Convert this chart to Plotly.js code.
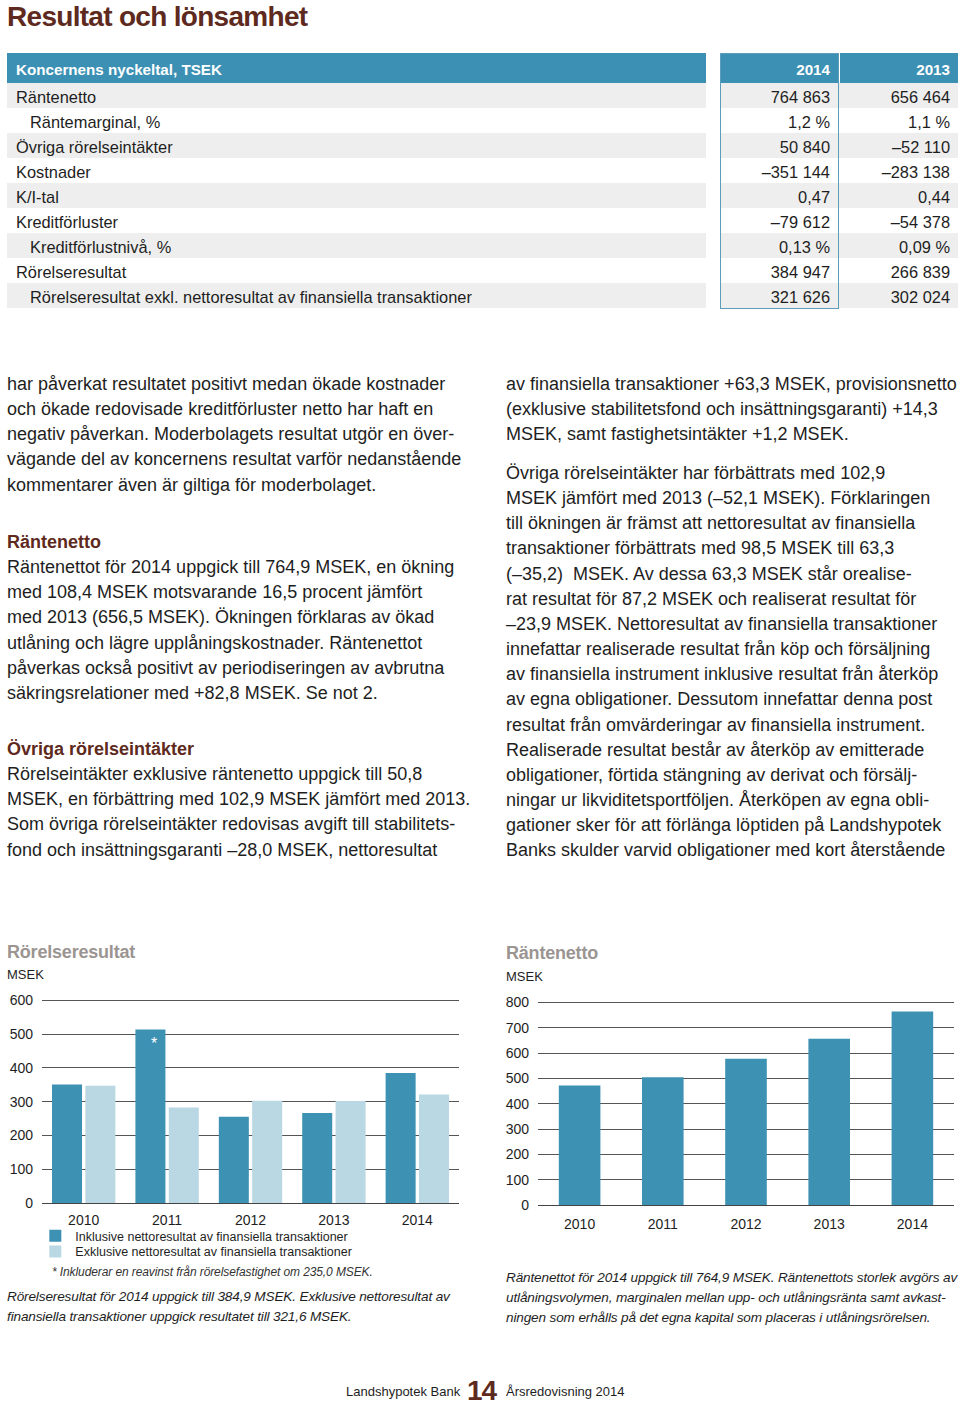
<!DOCTYPE html>
<html lang="sv">
<head>
<meta charset="utf-8">
<script src="https://cdn.plot.ly/plotly-3.0.1.min.js"></script>
<style>
  html, body { margin:0; padding:0; background:#fff; }
  body { width:960px; height:1411px; position:relative; overflow:hidden;
         font-family:"Liberation Sans", Arial, sans-serif; color:#1e1e1e; }
  .abs { position:absolute; white-space:nowrap; }
  .title { left:7px; top:1px; font-size:28px; font-weight:bold; color:#5e2a20; letter-spacing:-0.7px; }
  .para { font-size:18px; line-height:25.15px; }
  .head { color:#5e2a20; font-weight:bold; }
  .ctitle { font-size:18px; font-weight:bold; color:#9b9592; letter-spacing:-0.2px; }
  .unit { font-size:13px; color:#1e1e1e; }
  .cap { font-size:13.6px; font-style:italic; line-height:20px; color:#1e1e1e; letter-spacing:-0.15px; }
  .note { font-size:12px; font-style:italic; color:#333; letter-spacing:-0.1px; }
  table.kt { position:absolute; left:7px; top:53px; border-collapse:collapse; table-layout:fixed; font-size:16.4px; }
  table.kt td, table.kt th { padding:0; white-space:nowrap; overflow:hidden; }
  table.kt th { height:28px; padding-top:2px; background:#3b90b3; color:#fff; font-weight:bold; font-size:15.2px; }
  table.kt td { height:22px; padding-top:3px; }
  .lab { text-align:left; padding-left:9px !important; }
  .ind { padding-left:23px !important; }
  .num { text-align:right; padding-right:8px !important; }
  .sp { background:#fff !important; }
  #outline { position:absolute; left:720px; top:53px; width:119px; height:256px; box-sizing:border-box;
             border:1px solid #5c9dba; pointer-events:none; }
</style>
</head>
<body>
<div class="abs title">Resultat och lönsamhet</div>

<table class="kt" id="kt">
  <colgroup><col style="width:699px"><col style="width:14px"><col style="width:118px"><col style="width:2px"><col style="width:118px"></colgroup>
  <thead><tr id="khead"></tr></thead>
  <tbody id="kbody"></tbody>
</table>
<div id="outline"></div>

<div class="abs para" style="left:7px; top:372px;">har påverkat resultatet positivt medan ökade kostnader<br>och ökade redovisade kreditförluster netto har haft en<br>negativ påverkan. Moderbolagets resultat utgör en över-<br>vägande del av koncernens resultat varför nedanstående<br>kommentarer även är giltiga för moderbolaget.</div>

<div class="abs para" style="left:7px; top:530px;"><span class="head">Räntenetto</span><br>Räntenettot för 2014 uppgick till 764,9 MSEK, en ökning<br>med 108,4 MSEK motsvarande 16,5 procent jämfört<br>med 2013 (656,5 MSEK). Ökningen förklaras av ökad<br>utlåning och lägre upplåningskostnader. Räntenettot<br>påverkas också positivt av periodiseringen av avbrutna<br>säkringsrelationer med +82,8 MSEK. Se not 2.</div>

<div class="abs para" style="left:7px; top:737px;"><span class="head">Övriga rörelseintäkter</span><br>Rörelseintäkter exklusive räntenetto uppgick till 50,8<br>MSEK, en förbättring med 102,9 MSEK jämfört med 2013.<br>Som övriga rörelseintäkter redovisas avgift till stabilitets-<br>fond och insättningsgaranti –28,0 MSEK, nettoresultat</div>

<div class="abs para" style="left:506px; top:372px;">av finansiella transaktioner +63,3 MSEK, provisionsnetto<br>(exklusive stabilitetsfond och insättningsgaranti) +14,3<br>MSEK, samt fastighetsintäkter +1,2 MSEK.</div>

<div class="abs para" style="left:506px; top:461px;">Övriga rörelseintäkter har förbättrats med 102,9<br>MSEK jämfört med 2013 (–52,1 MSEK). Förklaringen<br>till ökningen är främst att nettoresultat av finansiella<br>transaktioner förbättrats med 98,5 MSEK till 63,3<br>(–35,2)&nbsp; MSEK. Av dessa 63,3 MSEK står orealise-<br>rat resultat för 87,2 MSEK och realiserat resultat för<br>–23,9 MSEK. Nettoresultat av finansiella transaktioner<br>innefattar realiserade resultat från köp och försäljning<br>av finansiella instrument inklusive resultat från återköp<br>av egna obligationer. Dessutom innefattar denna post<br>resultat från omvärderingar av finansiella instrument.<br>Realiserade resultat består av återköp av emitterade<br>obligationer, förtida stängning av derivat och försälj-<br>ningar ur likviditetsportföljen. Återköpen av egna obli-<br>gationer sker för att förlänga löptiden på Landshypotek<br>Banks skulder varvid obligationer med kort återstående</div>

<div class="abs ctitle" style="left:7px; top:942px;">Rörelseresultat</div>
<div class="abs unit" style="left:7px; top:967px;">MSEK</div>
<div class="abs ctitle" style="left:506px; top:943px;">Räntenetto</div>
<div class="abs unit" style="left:506px; top:969px;">MSEK</div>

<div id="chartL" class="abs" style="left:0px; top:990px; width:480px; height:300px;"></div>
<div id="chartR" class="abs" style="left:500px; top:990px; width:460px; height:250px;"></div>

<div class="abs note" style="left:52px; top:1265px;">* Inkluderar en reavinst från rörelsefastighet om 235,0 MSEK.</div>
<div class="abs cap" style="left:7px; top:1287px;">Rörelseresultat för 2014 uppgick till 384,9 MSEK. Exklusive nettoresultat av<br>finansiella transaktioner uppgick resultatet till 321,6 MSEK.</div>
<div class="abs cap" style="left:506px; top:1268px;">Räntenettot för 2014 uppgick till 764,9 MSEK. Räntenettots storlek avgörs av<br>utlåningsvolymen, marginalen mellan upp- och utlåningsränta samt avkast-<br>ningen som erhålls på det egna kapital som placeras i utlåningsrörelsen.</div>

<div class="abs" style="left:346px; top:1384px; font-size:13px; color:#1e1e1e;">Landshypotek Bank</div>
<div class="abs" style="left:467px; top:1375px; font-size:28px; font-weight:bold; color:#5e2a20; letter-spacing:-1px;">14</div>
<div class="abs" style="left:506px; top:1384px; font-size:13px; color:#1e1e1e;">Årsredovisning 2014</div>

<script>
// ---- Table data (TSEK) ----
var tableHeader = ['Koncernens nyckeltal, TSEK', '2014', '2013'];
var rowLabels = ['Räntenetto', 'Räntemarginal, %', 'Övriga rörelseintäkter', 'Kostnader', 'K/I-tal',
                 'Kreditförluster', 'Kreditförlustnivå, %', 'Rörelseresultat',
                 'Rörelseresultat exkl. nettoresultat av finansiella transaktioner'];
var rowIndented = [false, true, false, false, false, false, true, false, true];
var values2014 = ['764 863', '1,2 %', '50 840', '–351 144', '0,47', '–79 612', '0,13 %', '384 947', '321 626'];
var values2013 = ['656 464', '1,1 %', '–52 110', '–283 138', '0,44', '–54 378', '0,09 %', '266 839', '302 024'];

// ---- Chart data (MSEK) ----
var years = ['2010', '2011', '2012', '2013', '2014'];
var rorelseInkl = [351, 514, 255, 266.8, 384.9];
var rorelseExkl = [347, 283, 303, 302.0, 321.6];
var rantenetto = [472, 505, 578, 656.5, 764.9];
var seriesNames = ['Inklusive nettoresultat av finansiella transaktioner',
                   'Exklusive nettoresultat av finansiella transaktioner'];
var starYear = '2011';   // year marked with * (includes property gain)

// build table
(function () {
  var h = document.getElementById('khead');
  h.innerHTML = '<th class="lab">' + tableHeader[0] + '</th><th class="sp"></th>' +
    '<th class="num">' + tableHeader[1] + '</th><th class="sp"></th><th class="num">' + tableHeader[2] + '</th>';
  var b = document.getElementById('kbody');
  for (var i = 0; i < rowLabels.length; i++) {
    var bg = (i % 2 === 0) ? '#eeeeee' : '#ffffff';
    var tr = document.createElement('tr');
    tr.innerHTML =
      '<td class="lab' + (rowIndented[i] ? ' ind' : '') + '" style="background:' + bg + '">' + rowLabels[i] + '</td>' +
      '<td class="sp"></td>' +
      '<td class="num" style="background:' + bg + '">' + values2014[i] + '</td>' +
      '<td style="background:' + bg + '"></td>' +
      '<td class="num" style="background:' + bg + '">' + values2013[i] + '</td>';
    b.appendChild(tr);
  }
})();

var dark = '#3d92b4', light = '#b9d8e3';
var fontFam = '"Liberation Sans", Arial, sans-serif';

var traceInkl = { type:'bar', x:years, y:rorelseInkl, name:seriesNames[0], marker:{color:dark}, legend:'legend', hoverinfo:'none' };
var traceExkl = { type:'bar', x:years, y:rorelseExkl, name:seriesNames[1], marker:{color:light}, legend:'legend2', hoverinfo:'none' };

var legendBase = { xanchor:'left', yanchor:'middle', bgcolor:'rgba(0,0,0,0)', borderwidth:0,
                   font:{size:12.5, color:'#1e1e1e', family:fontFam} };

var starIdx = years.indexOf(starYear);

var layoutL = {
  width:480, height:300,
  margin:{l:42, r:21, t:9, b:87},
  paper_bgcolor:'rgba(0,0,0,0)', plot_bgcolor:'rgba(0,0,0,0)',
  barmode:'group', bargap:0.2, bargroupgap:0.1,
  font:{family:fontFam, color:'#1e1e1e', size:14},
  showlegend:true,
  xaxis:{ type:'category', showgrid:false, ticks:'', showline:false, zeroline:false, tickfont:{size:14},
          ticklabelstandoff:7, fixedrange:true },
  yaxis:{ range:[0,604], tick0:0, dtick:100, gridcolor:'#555', gridwidth:1, zeroline:true, zerolinecolor:'#444', zerolinewidth:1,
          ticks:'', showline:false, tickfont:{size:14}, ticklabelstandoff:8, fixedrange:true },
  legend: Object.assign({}, legendBase, { x:-0.016, y:-0.162 }),
  legend2: Object.assign({}, legendBase, { x:-0.016, y:-0.240 }),
  annotations:[{ x:starIdx, y:rorelseInkl[starIdx], xref:'x', yref:'y', text:'*', showarrow:false,
                 font:{color:'#ffffff', size:16, family:fontFam}, xshift:-13, yshift:-14 }]
};

var layoutR = {
  width:460, height:250,
  margin:{l:38, r:6, t:11, b:35},
  paper_bgcolor:'rgba(0,0,0,0)', plot_bgcolor:'rgba(0,0,0,0)',
  bargap:0.5, showlegend:false,
  font:{family:fontFam, color:'#1e1e1e', size:14},
  xaxis:{ type:'category', showgrid:false, ticks:'', showline:false, zeroline:false, tickfont:{size:14},
          ticklabelstandoff:9, fixedrange:true },
  yaxis:{ range:[0,806], tick0:0, dtick:100, gridcolor:'#555', gridwidth:1, zeroline:true, zerolinecolor:'#444', zerolinewidth:1,
          ticks:'', showline:false, tickfont:{size:14}, ticklabelstandoff:8, fixedrange:true }
};

var cfg = { staticPlot:true, displayModeBar:false, responsive:false };
Plotly.newPlot('chartL', [traceInkl, traceExkl], layoutL, cfg);
Plotly.newPlot('chartR', [{ type:'bar', x:years, y:rantenetto, name:'Räntenetto', marker:{color:dark}, hoverinfo:'none' }], layoutR, cfg);
</script>
</body>
</html>
